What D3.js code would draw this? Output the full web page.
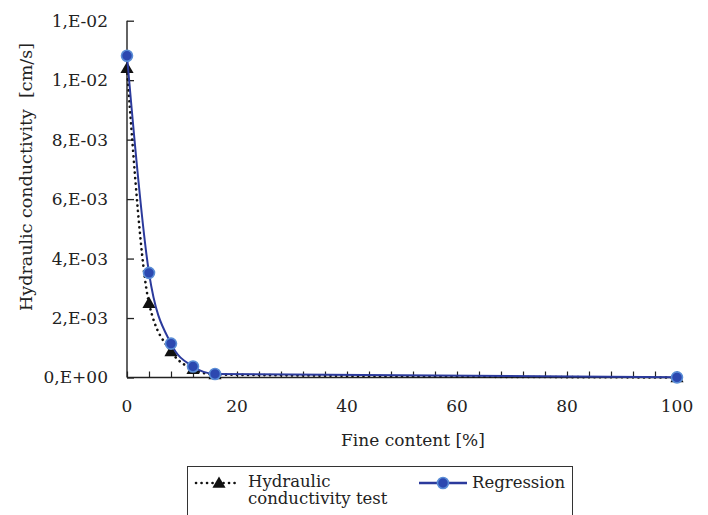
<!DOCTYPE html>
<html>
<head>
<meta charset="utf-8">
<script src="https://cdn.jsdelivr.net/npm/d3@7"></script>
<style>
  body { margin: 0; background: #fff; }
  svg { display: block; }
</style>
</head>
<body>
<div id="chart"></div>
<script>
// fine content [%]
var fines = [0, 4, 8, 12, 16, 100];
// measured hydraulic conductivity [cm/s]
var testK = [0.0104, 0.0025, 0.00088, 0.00028, 0.0001, 0.0];
// regression curve
var regK = [0.01082, 0.00352, 0.00114, 0.00037, 0.00012, 0.000005];

var yTicks = [0, 0.002, 0.004, 0.006, 0.008, 0.010, 0.012];
var yTickLabels = ["0,E+00", "2,E-03", "4,E-03", "6,E-03", "8,E-03", "1,E-02", "1,E-02"];
var xTicks = [0, 20, 40, 60, 80, 100];

var width = 708, height = 515;
var plotLeft = 127, plotRight = 677, plotTop = 20.7, plotBottom = 377.5;
var serif = "'DejaVu Serif'";
var fs = 17;

var svg = d3.select("#chart").append("svg")
  .attr("width", width)
  .attr("height", height)
  .style("font-family", serif);

var x = d3.scaleLinear().domain([0, 100]).range([plotLeft, plotRight]);
var y = d3.scaleLinear().domain([0, 0.012]).range([plotBottom, plotTop]);

// axes
var yAxis = d3.axisRight(y)
  .tickValues(yTicks)
  .tickSize(7)
  .tickFormat("");
var gy = svg.append("g")
  .attr("transform", "translate(" + plotLeft + ",0)")
  .call(yAxis);
gy.select(".domain").remove();
gy.selectAll("line").attr("stroke", "#222").attr("stroke-width", 1.3);

svg.append("g").selectAll("text")
  .data(yTicks)
  .enter().append("text")
  .attr("x", 108)
  .attr("y", function(d) { return y(d); })
  .attr("dy", "0.35em")
  .attr("text-anchor", "end")
  .style("font-family", serif)
  .attr("font-size", fs)
  .attr("fill", "#222")
  .text(function(d, i) { return yTickLabels[i]; });

var xAxis = d3.axisTop(x)
  .tickValues(d3.range(0, 101, 4))
  .tickSize(6)
  .tickFormat("");
var gx = svg.append("g")
  .attr("transform", "translate(0," + plotBottom + ")")
  .call(xAxis);
gx.select(".domain").remove();
gx.selectAll("line").attr("stroke", "#222").attr("stroke-width", 1.2);

svg.append("g").selectAll("text")
  .data(xTicks)
  .enter().append("text")
  .attr("x", function(d) { return x(d); })
  .attr("y", 412)
  .attr("text-anchor", "middle")
  .style("font-family", serif)
  .attr("font-size", fs)
  .attr("fill", "#222")
  .text(function(d) { return d; });

svg.append("line")
  .attr("x1", plotLeft).attr("x2", plotLeft)
  .attr("y1", plotTop).attr("y2", plotBottom)
  .attr("stroke", "#222").attr("stroke-width", 1.4);
svg.append("line")
  .attr("x1", plotLeft).attr("x2", plotRight)
  .attr("y1", plotBottom).attr("y2", plotBottom)
  .attr("stroke", "#222").attr("stroke-width", 1.4);

// axis titles
svg.append("text")
  .attr("transform", "translate(32,177) rotate(-90)")
  .attr("text-anchor", "middle")
  .style("font-family", serif)
  .attr("font-size", 17.5)
  .attr("fill", "#222")
  .attr("xml:space", "preserve")
  .text("Hydraulic conductivity  [cm/s]");

svg.append("text")
  .attr("x", 413)
  .attr("y", 446)
  .attr("text-anchor", "middle")
  .style("font-family", serif)
  .attr("font-size", fs)
  .attr("fill", "#222")
  .text("Fine content [%]");

// series
var testData = fines.map(function(f, i) { return [f, testK[i]]; });
var regData = fines.map(function(f, i) { return [f, regK[i]]; });

var line = d3.line()
  .x(function(d) { return x(d[0]); })
  .y(function(d) { return y(d[1]); })
  .curve(d3.curveMonotoneX);

svg.append("path")
  .datum(testData)
  .attr("d", line)
  .attr("fill", "none")
  .attr("stroke", "#111")
  .attr("stroke-width", 2.6)
  .attr("stroke-linecap", "round")
  .attr("stroke-dasharray", "0.1,5.4");

var tri = d3.symbol().type(d3.symbolTriangle).size(75);

svg.append("g").selectAll("path")
  .data(testData)
  .enter().append("path")
  .attr("d", tri)
  .attr("transform", function(d) { return "translate(" + x(d[0]) + "," + (y(d[1]) + 1) + ")"; })
  .attr("fill", "#111");

svg.append("path")
  .datum(regData)
  .attr("d", line)
  .attr("fill", "none")
  .attr("stroke", "#2B3A9C")
  .attr("stroke-width", 2);

svg.append("g").selectAll("circle")
  .data(regData)
  .enter().append("circle")
  .attr("cx", function(d) { return x(d[0]); })
  .attr("cy", function(d) { return y(d[1]); })
  .attr("r", 5.5)
  .attr("fill", "#2C48B0")
  .attr("stroke", "#5A8DD6")
  .attr("stroke-width", 1.6);

// legend
var lfs = 16.5;
var lg = svg.append("g");
lg.append("rect")
  .attr("x", 187.5).attr("y", 466.5)
  .attr("width", 385).attr("height", 60)
  .attr("fill", "#fff")
  .attr("stroke", "#333").attr("stroke-width", 1);

lg.append("line")
  .attr("x1", 196).attr("x2", 238)
  .attr("y1", 483).attr("y2", 483)
  .attr("stroke", "#111").attr("stroke-width", 2.6)
  .attr("stroke-linecap", "round")
  .attr("stroke-dasharray", "0.1,5.4");
lg.append("path")
  .attr("d", tri)
  .attr("transform", "translate(219,484)")
  .attr("fill", "#111");
lg.append("text")
  .attr("x", 248).attr("y", 487)
  .style("font-family", serif)
  .attr("font-size", lfs).attr("fill", "#222")
  .text("Hydraulic");
lg.append("text")
  .attr("x", 248).attr("y", 504)
  .style("font-family", serif)
  .attr("font-size", lfs).attr("fill", "#222")
  .text("conductivity test");

lg.append("line")
  .attr("x1", 419).attr("x2", 467)
  .attr("y1", 483).attr("y2", 483)
  .attr("stroke", "#2B3A9C").attr("stroke-width", 2.4);
lg.append("circle")
  .attr("cx", 443).attr("cy", 483)
  .attr("r", 5.5)
  .attr("fill", "#2C48B0")
  .attr("stroke", "#5A8DD6")
  .attr("stroke-width", 1.6);
lg.append("text")
  .attr("x", 472).attr("y", 488)
  .style("font-family", serif)
  .attr("font-size", lfs).attr("fill", "#222")
  .text("Regression");
</script>
</body>
</html>
